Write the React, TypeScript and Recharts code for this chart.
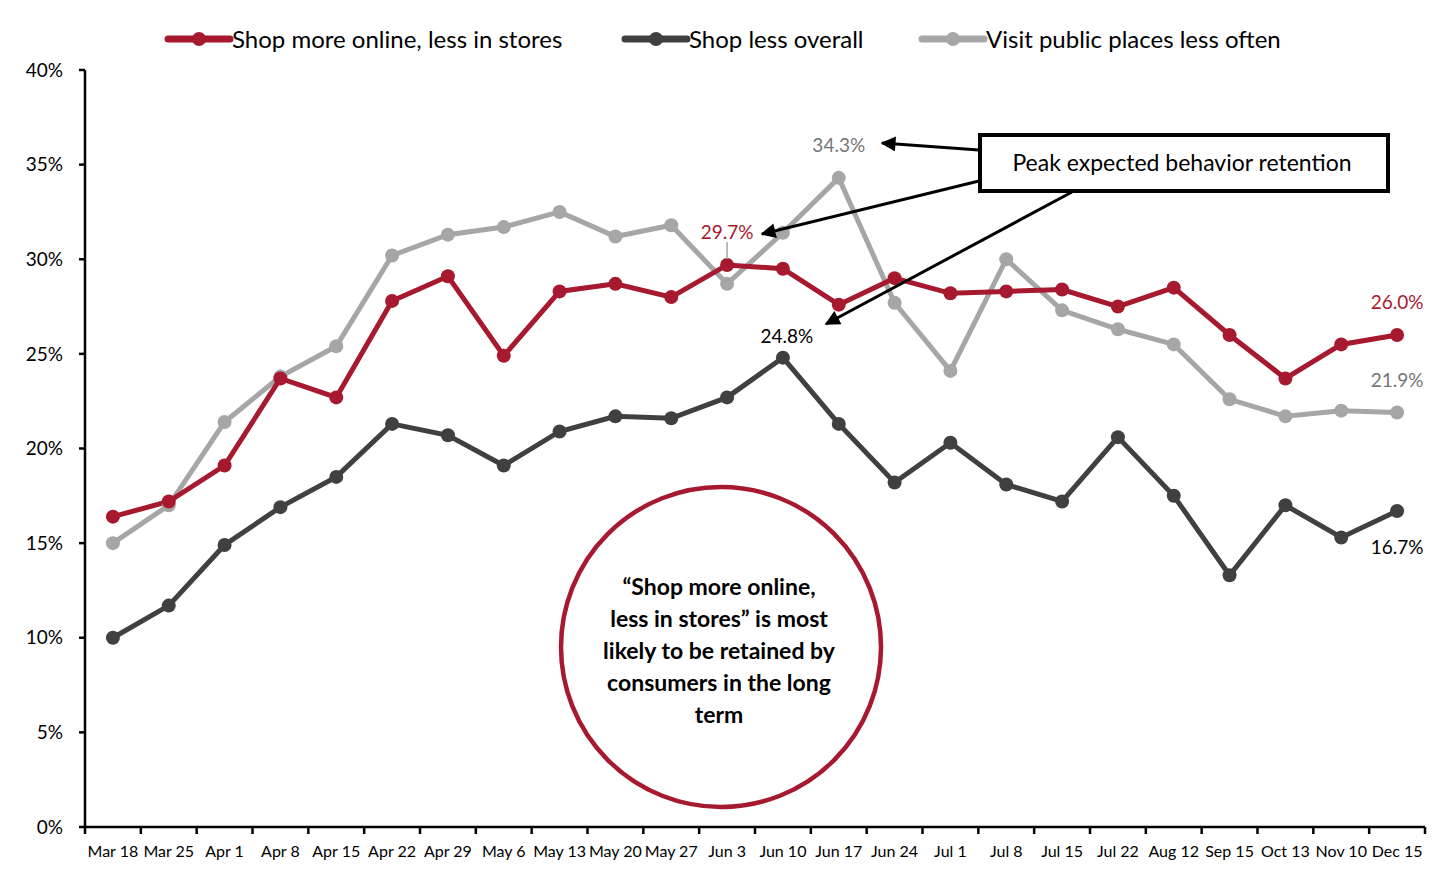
import { LineChart, Line, XAxis, YAxis, LabelList } from 'recharts'

const weeks = ['Mar 18', 'Mar 25', 'Apr 1', 'Apr 8', 'Apr 15', 'Apr 22', 'Apr 29', 'May 6', 'May 13', 'May 20', 'May 27', 'Jun 3', 'Jun 10', 'Jun 17', 'Jun 24', 'Jul 1', 'Jul 8', 'Jul 15', 'Jul 22', 'Aug 12', 'Sep 15', 'Oct 13', 'Nov 10', 'Dec 15']

const shopOnline = [16.4, 17.2, 19.1, 23.7, 22.7, 27.8, 29.1, 24.9, 28.3, 28.7, 28.0, 29.7, 29.5, 27.6, 29.0, 28.2, 28.3, 28.4, 27.5, 28.5, 26.0, 23.7, 25.5, 26.0]
const shopLess = [10.0, 11.7, 14.9, 16.9, 18.5, 21.3, 20.7, 19.1, 20.9, 21.7, 21.6, 22.7, 24.8, 21.3, 18.2, 20.3, 18.1, 17.2, 20.6, 17.5, 13.3, 17.0, 15.3, 16.7]
const visitLess = [15.0, 17.0, 21.4, 23.8, 25.4, 30.2, 31.3, 31.7, 32.5, 31.2, 31.8, 28.7, 31.4, 34.3, 27.7, 24.1, 30.0, 27.3, 26.3, 25.5, 22.6, 21.7, 22.0, 21.9]

const yTicks = [0, 5, 10, 15, 20, 25, 30, 35, 40]

const RED = '#A6192E'
const DARK = '#404040'
const GRAY = '#A6A6A6'
const FONT = 'Lato, "Open Sans", sans-serif'

const data = weeks.map((w, i) => ({
    week: w,
    online: shopOnline[i],
    less: shopLess[i],
    visit: visitLess[i],
}))

const W = 1438
const H = 874
const HALF_BAND = 1340 / weeks.length / 2

// which points get a value label, and where it sits relative to the dot
const labelSpots: Record<string, Record<number, { dx: number; dy: number; color: string; leader?: boolean }>> = {
    online: { 11: { dx: 0, dy: -33, color: RED, leader: true }, 23: { dx: 0, dy: -33, color: RED } },
    less: { 12: { dx: 4, dy: -22, color: '#000' }, 23: { dx: 0, dy: 36, color: '#000' } },
    visit: { 13: { dx: 0, dy: -33, color: '#767676' }, 23: { dx: 0, dy: -33, color: '#767676' } },
}

const makeLabel = (key: string) => (props: any) => {
    const { x, y, index, value } = props
    const spot = labelSpots[key][index]
    if (!spot) return null
    return (
        <g>
            {spot.leader && <line x1={x} y1={y + spot.dy + 10} x2={x} y2={y - 6} stroke="#A6A6A6" strokeWidth={1.5} />}
            <text x={x + spot.dx} y={y + spot.dy} textAnchor="middle" dominantBaseline="central" fill={spot.color} fontSize={19} fontFamily={FONT}>
                {value.toFixed(1)}%
            </text>
        </g>
    )
}

const XTick = (props: any) => {
    const { x, y, payload, index } = props
    return (
        <g>
            <line x1={x - HALF_BAND} y1={y} x2={x - HALF_BAND} y2={y + 7} stroke="#000" strokeWidth={2.5} />
            {index === weeks.length - 1 && <line x1={x + HALF_BAND} y1={y} x2={x + HALF_BAND} y2={y + 7} stroke="#000" strokeWidth={2.5} />}
            <text x={x} y={y + 23} textAnchor="middle" dominantBaseline="central" fontSize={16} fontFamily={FONT} fill="#000">
                {payload.value}
            </text>
        </g>
    )
}

const legendItems = [
    { label: 'Shop more online, less in stores', color: RED, x: 168 },
    { label: 'Shop less overall', color: DARK, x: 625 },
    { label: 'Visit public places less often', color: GRAY, x: 922 },
]

const circleLines = ['\u201cShop more online,', 'less in stores\u201d is most', 'likely to be retained by', 'consumers in the long', 'term']

export default function App() {
    return (
        <div style={{ position: 'absolute', left: 0, top: 0, width: W, height: H, background: '#fff' }}>
            <LineChart width={W} height={H} data={data} margin={{ top: 70, right: 13, bottom: 0, left: 0 }}>
                <XAxis
                    dataKey="week"
                    interval={0}
                    height={47}
                    padding={{ left: HALF_BAND, right: HALF_BAND }}
                    tickSize={0}
                    tickMargin={0}
                    tickLine={false}
                    axisLine={{ stroke: '#000', strokeWidth: 2.5 }}
                    tick={<XTick />}
                />
                <YAxis
                    width={85}
                    domain={[0, 40]}
                    ticks={yTicks}
                    interval={0}
                    tickFormatter={(v) => `${v}%`}
                    axisLine={{ stroke: '#000', strokeWidth: 2.5 }}
                    tickLine={{ stroke: '#000', strokeWidth: 2.5 }}
                    tickSize={6}
                    tickMargin={16}
                    tick={{ fill: '#000', fontSize: 19, fontFamily: FONT }}
                />
                <Line dataKey="visit" stroke={GRAY} strokeWidth={5} dot={{ r: 7, fill: GRAY, stroke: 'none' }} isAnimationActive={false}>
                    <LabelList dataKey="visit" content={makeLabel('visit')} />
                </Line>
                <Line dataKey="less" stroke={DARK} strokeWidth={5} dot={{ r: 7, fill: DARK, stroke: 'none' }} isAnimationActive={false}>
                    <LabelList dataKey="less" content={makeLabel('less')} />
                </Line>
                <Line dataKey="online" stroke={RED} strokeWidth={5} dot={{ r: 7, fill: RED, stroke: 'none' }} isAnimationActive={false}>
                    <LabelList dataKey="online" content={makeLabel('online')} />
                </Line>
            </LineChart>
            <svg width={W} height={H} style={{ position: 'absolute', left: 0, top: 0, pointerEvents: 'none' }}>
                <defs>
                    <marker id="arrow" viewBox="0 0 10 10" refX="9" refY="5" markerWidth="6" markerHeight="5" markerUnits="strokeWidth" orient="auto">
                        <path d="M0,0 L10,5 L0,10 z" fill="#000" />
                    </marker>
                </defs>
                {legendItems.map((it) => (
                    <g key={it.label}>
                        <line x1={it.x} y1={39} x2={it.x + 62} y2={39} stroke={it.color} strokeWidth={7} strokeLinecap="round" />
                        <circle cx={it.x + 31} cy={39} r={7} fill={it.color} />
                        <text x={it.x + 64} y={38} dominantBaseline="central" fontSize={24} fontFamily={FONT} fill="#000">{it.label}</text>
                    </g>
                ))}
                <line x1={979} y1={150} x2={882} y2={143} stroke="#000" strokeWidth={3} markerEnd="url(#arrow)" />
                <line x1={979} y1={181} x2={762} y2={234} stroke="#000" strokeWidth={3} markerEnd="url(#arrow)" />
                <line x1={1072} y1={192} x2={826} y2={324} stroke="#000" strokeWidth={3} markerEnd="url(#arrow)" />
                <rect x={980} y={135} width={408} height={56} fill="#fff" stroke="#000" strokeWidth={4} />
                <text x={1182} y={162} textAnchor="middle" dominantBaseline="central" fontSize={23} fontFamily={FONT} fill="#000">
                    Peak expected behavior retention
                </text>
                <circle cx={721} cy={647} r={160} fill="#fff" stroke={RED} strokeWidth={4.5} />
                {circleLines.map((l, i) => (
                    <text key={i} x={719} y={586 + i * 32} textAnchor="middle" dominantBaseline="central" fontSize={23} fontWeight={700} fontFamily={FONT} fill="#000">
                        {l}
                    </text>
                ))}
            </svg>
        </div>
    )
}
